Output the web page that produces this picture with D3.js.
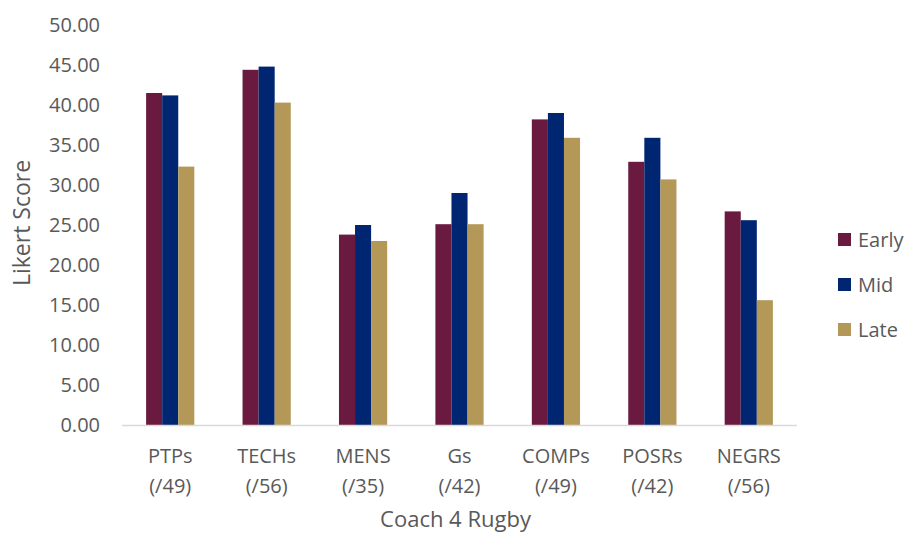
<!DOCTYPE html>
<html>
<head>
<meta charset="utf-8">
<script src="https://cdn.jsdelivr.net/npm/d3@7"></script>
<style>
  body { margin: 0; background: #fff; }
  text { font-family: "Open Sans", "Noto Sans", sans-serif; fill: #595959; }
</style>
</head>
<body>
<div id="chart"></div>
<script>
// categories and their maximum scores
var categories = ["PTPs", "TECHs", "MENS", "Gs", "COMPs", "POSRs", "NEGRS"];
var maxLabels  = ["(/49)", "(/56)", "(/35)", "(/42)", "(/49)", "(/42)", "(/56)"];

// series values
var seriesNames = ["Early", "Mid", "Late"];
var early = [41.5, 44.4, 23.8, 25.1, 38.2, 32.9, 26.7];
var mid   = [41.2, 44.8, 25.0, 29.0, 39.0, 35.9, 25.6];
var late  = [32.3, 40.3, 23.0, 25.1, 35.9, 30.7, 15.6];
var yTicks = [0, 5, 10, 15, 20, 25, 30, 35, 40, 45, 50];

var colors = ["#6b1a3f", "#002571", "#b39858"];

var width = 906, height = 536;
var margin = {top: 25, right: 109, bottom: 111, left: 122};

var svg = d3.select("#chart").append("svg")
	.attr("width", width)
	.attr("height", height);

var plotW = width - margin.left - margin.right,
	plotH = height - margin.top - margin.bottom;

var g = svg.append("g")
	.attr("transform", "translate(" + margin.left + "," + margin.top + ")");

//	scales
var x = d3.scaleBand()
	.domain(categories)
	.range([0, plotW])
	.paddingInner(0.5)
	.paddingOuter(0.25);

var xs = d3.scaleBand()
	.domain(seriesNames)
	.range([0, x.bandwidth()]);

var y = d3.scaleLinear()
	.domain([0, 50])
	.range([plotH, 0]);

// build rows for the bars
var series = [early, mid, late];
var rows = [];
categories.forEach(function(c, i) {
	seriesNames.forEach(function(s, j) {
		rows.push({cat: c, name: s, value: series[j][i], color: colors[j]});
	});
});

g.selectAll(".bar")
	.data(rows)
	.enter().append("rect")
	.attr("class", "bar")
	.attr("x", function(d) { return x(d.cat) + xs(d.name); })
	.attr("width", xs.bandwidth())
	.attr("y", function(d) { return y(d.value); })
	.attr("height", function(d) { return y(0) - y(d.value); })
	.attr("fill", function(d) { return d.color; });

//	y axis - labels only
var yAxis = g.append("g")
	.call(d3.axisLeft(y).tickValues(yTicks).tickSize(0).tickPadding(22)
		.tickFormat(d3.format(".2f")));
yAxis.select(".domain").remove();
yAxis.selectAll("text")
	.style("font-size", "20px")
	.attr("fill", "#595959");

//	x axis line
g.append("line")
	.attr("x1", 0)
	.attr("x2", plotW)
	.attr("y1", y(0) + 0.5)
	.attr("y2", y(0) + 0.5)
	.attr("stroke", "#d9d9d9")
	.attr("stroke-width", 1.5);

// category labels, two lines each
var catLabel = g.selectAll(".cat")
	.data(categories)
	.enter().append("text")
	.attr("class", "cat")
	.attr("text-anchor", "middle")
	.style("font-size", "20px")
	.attr("transform", function(d) {
		return "translate(" + (x(d) + x.bandwidth() / 2) + "," + (plotH + 38) + ")";
	});
catLabel.append("tspan")
	.attr("x", 0)
	.text(function(d) { return d; });
catLabel.append("tspan")
	.attr("x", 0)
	.attr("dy", 30)
	.text(function(d, i) { return maxLabels[i]; });

// axis titles
svg.append("text")
	.attr("text-anchor", "middle")
	.attr("x", margin.left + plotW / 2 - 4)
	.attr("y", 527)
	.style("font-size", "22px")
	.text("Coach 4 Rugby");

svg.append("text")
	.attr("text-anchor", "middle")
	.attr("transform", "translate(30," + (margin.top + plotH / 2 - 2) + ") rotate(-90)")
	.style("font-size", "23px")
	.text("Likert Score");

// legend
var legend = svg.selectAll(".legend")
	.data(seriesNames)
	.enter().append("g")
	.attr("class", "legend")
	.attr("transform", function(d, i) { return "translate(838," + (233 + i * 45) + ")"; });

legend.append("rect")
	.attr("width", 13)
	.attr("height", 13)
	.attr("fill", function(d, i) { return colors[i]; });

legend.append("text")
	.attr("x", 20)
	.attr("y", 14)
	.style("font-size", "20px")
	.text(function(d) { return d; });
</script>
</body>
</html>
